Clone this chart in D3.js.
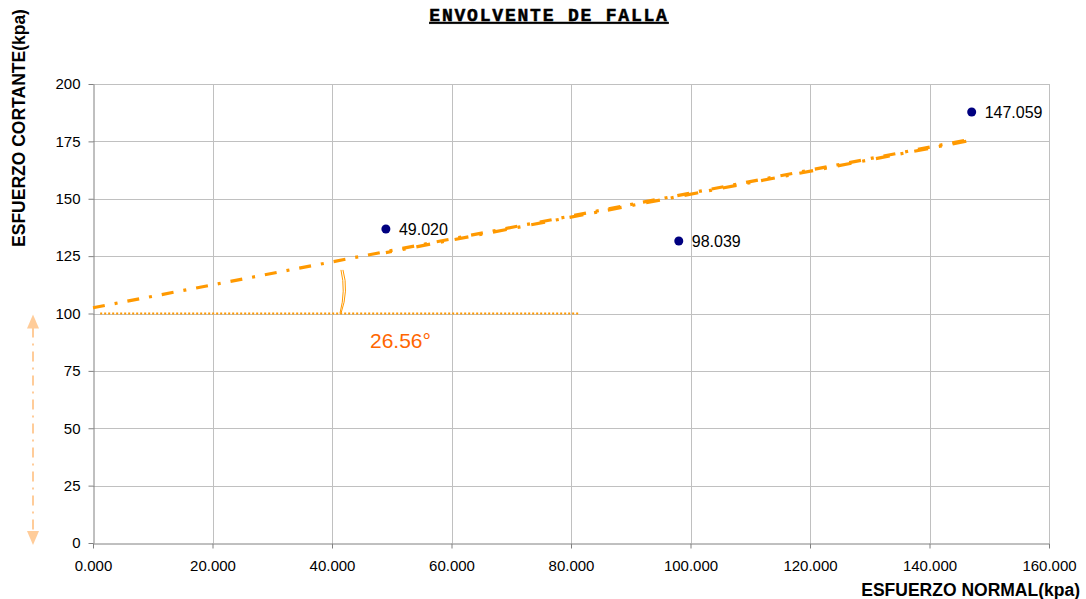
<!DOCTYPE html>
<html>
<head>
<meta charset="utf-8">
<script src="https://cdn.jsdelivr.net/npm/d3@7"></script>
<style>
  html, body { margin: 0; padding: 0; background: #fff; }
  svg { display: block; }
</style>
</head>
<body>
<svg id="chart" width="1086" height="599"></svg>
<script>
// Ensayo de corte directo: esfuerzo normal vs esfuerzo cortante
const normalStress = [49.020, 98.039, 147.059];
const shearStress  = [136.8, 131.6, 187.8];
const pointLabels  = ["49.020", "98.039", "147.059"];

// Envolvente de falla: tau = c + sigma * tan(phi)
const cohesion = 102.5;
const frictionAngle = 26.56;
const envelopeX = [0, 147.059];
const envelopeX2 = [49.020, 147.059];

const xTicks = [0, 20, 40, 60, 80, 100, 120, 140, 160];
const yTicks = [0, 25, 50, 75, 100, 125, 150, 175, 200];

const svg = d3.select("#chart");
const plotLeft = 93, plotRight = 1049, plotTop = 84, plotBottom = 543;
const sans = "'Liberation Sans', Arial, sans-serif";

const x = d3.scaleLinear().domain([0, 160]).range([plotLeft, plotRight]);
const y = d3.scaleLinear().domain([0, 200]).range([plotBottom, plotTop]);
const tanPhi = Math.tan(frictionAngle * Math.PI / 180);
const envelope = s => cohesion + s * tanPhi;

// Title
svg.append("text")
  .attr("x", 549).attr("y", 21)
  .attr("text-anchor", "middle")
  .attr("font-family", "'Liberation Mono', 'Courier New', monospace")
  .attr("font-weight", "bold").attr("font-size", 18)
  .attr("letter-spacing", 1.8)
  .attr("stroke", "#000").attr("stroke-width", 0.5)
  .attr("text-decoration", "underline")
  .text("ENVOLVENTE DE FALLA");

// Grid
const grid = svg.append("g").attr("stroke", "#c0c0c0").attr("stroke-width", 1);
grid.selectAll(".gx").data(xTicks.slice(1)).enter().append("line")
  .attr("x1", d => Math.round(x(d)) + 0.5).attr("x2", d => Math.round(x(d)) + 0.5)
  .attr("y1", plotTop).attr("y2", plotBottom);
grid.selectAll(".gy").data(yTicks.slice(1)).enter().append("line")
  .attr("y1", d => Math.round(y(d)) + 0.5).attr("y2", d => Math.round(y(d)) + 0.5)
  .attr("x1", plotLeft).attr("x2", plotRight);

// Axes
const xAxis = d3.axisBottom(x).tickValues(xTicks).tickFormat(d3.format(".3f")).tickSizeInner(5).tickSizeOuter(0).tickPadding(12);
const yAxis = d3.axisLeft(y).tickValues(yTicks).tickFormat(d3.format("d")).tickSizeInner(5).tickSizeOuter(0).tickPadding(8);

const gx = svg.append("g").attr("transform", `translate(0,${plotBottom + 0.5})`).call(xAxis);
const gy = svg.append("g").attr("transform", `translate(${plotLeft + 0.5},0)`).call(yAxis);
[gx, gy].forEach(g => {
  g.select(".domain").attr("stroke", "#808080");
  g.selectAll(".tick line").attr("stroke", "#808080");
  g.selectAll("text").attr("font-family", sans)
    .attr("font-size", 15).attr("fill", "#000");
});

// Axis titles
svg.append("text")
  .attr("x", 1080).attr("y", 596)
  .attr("text-anchor", "end")
  .attr("font-family", sans)
  .attr("font-weight", "bold").attr("font-size", 17.5)
  .text("ESFUERZO NORMAL(kpa)");
svg.append("text")
  .attr("transform", "translate(25,128) rotate(-90)")
  .attr("text-anchor", "middle")
  .attr("font-family", sans)
  .attr("font-weight", "bold").attr("font-size", 17.5)
  .text("ESFUERZO CORTANTE(kpa)");

// Horizontal reference at tau = 100
svg.append("line")
  .attr("x1", x(1.2)).attr("x2", x(81.2))
  .attr("y1", y(100)).attr("y2", y(100))
  .attr("stroke", "#ff9900").attr("stroke-width", 2)
  .attr("stroke-dasharray", "2,2");

// Angle arc
const arcX = x(41.5);
svg.append("path")
  .attr("d", `M${arcX},${y(100)} Q${arcX + 8},${y(110)} ${arcX + 2},${y(119)}`)
  .attr("fill", "none").attr("stroke", "#ff9900").attr("stroke-width", 1);
svg.append("path")
  .attr("d", `M${arcX - 1},${y(100)} Q${arcX + 5},${y(110)} ${arcX},${y(119)}`)
  .attr("fill", "none").attr("stroke", "#ff9900").attr("stroke-width", 1);

svg.append("text")
  .attr("x", 370).attr("y", 348)
  .attr("font-family", sans)
  .attr("font-size", 21).attr("fill", "#ff6600")
  .text(frictionAngle.toFixed(2) + "°");

// Envelope lines
const line = d3.line().x(d => x(d)).y(d => y(envelope(d)));
svg.append("path")
  .datum(envelopeX)
  .attr("d", line)
  .attr("fill", "none").attr("stroke", "#ff9900").attr("stroke-width", 3.2)
  .attr("stroke-dasharray", "12,10,3,10");
const line2 = d3.line().x(d => x(d)).y(d => y(envelope(d) - 0.5));
svg.append("path")
  .datum(envelopeX2)
  .attr("d", line2)
  .attr("fill", "none").attr("stroke", "#ff9900").attr("stroke-width", 3.2)
  .attr("stroke-dasharray", "14,11,3,11")
  .attr("stroke-dashoffset", 8);

// Left double arrow (range 0-100)
const ax = 33;
svg.append("line")
  .attr("x1", ax).attr("x2", ax)
  .attr("y1", y(100) + 14).attr("y2", y(0) - 12)
  .attr("stroke", "#ffcc99").attr("stroke-width", 2)
  .attr("stroke-dasharray", "10,6,2,6");
svg.append("path")
  .attr("d", `M${ax},${y(100) + 1} L${ax - 6},${y(100) + 15} L${ax + 6},${y(100) + 15} Z`)
  .attr("fill", "#ffcc99");
svg.append("path")
  .attr("d", `M${ax},${y(0) + 2} L${ax - 6},${y(0) - 12} L${ax + 6},${y(0) - 12} Z`)
  .attr("fill", "#ffcc99");

// Data points
const pts = svg.append("g");
pts.selectAll("circle").data(normalStress).enter().append("circle")
  .attr("cx", d => x(d)).attr("cy", (d, i) => y(shearStress[i]))
  .attr("r", 4.5).attr("fill", "#000080");
pts.selectAll("text").data(normalStress).enter().append("text")
  .attr("x", d => x(d) + 13).attr("y", (d, i) => y(shearStress[i]) + 6)
  .attr("font-family", sans)
  .attr("font-size", 16).attr("fill", "#000")
  .text((d, i) => pointLabels[i]);
</script>
</body>
</html>
